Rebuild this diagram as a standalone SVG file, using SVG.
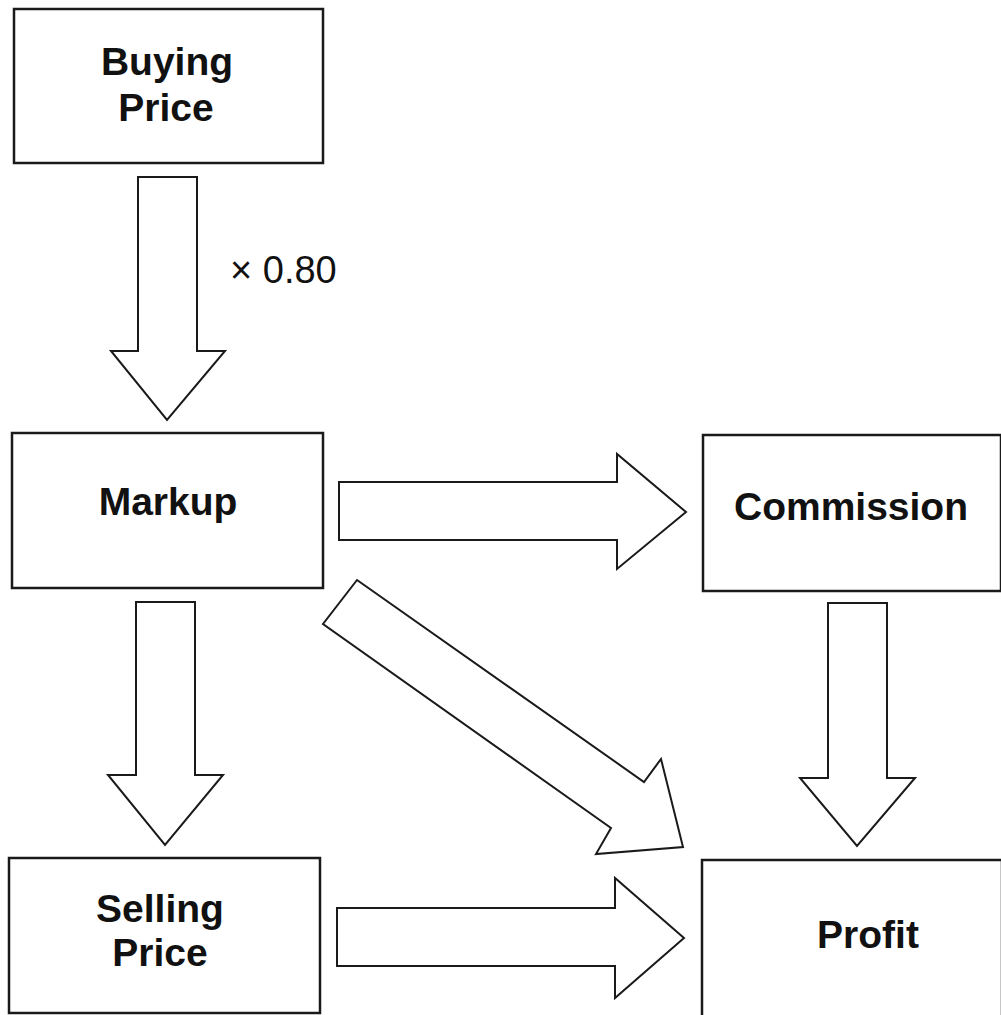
<svg xmlns="http://www.w3.org/2000/svg" width="1001" height="1015" viewBox="0 0 1001 1015">
<style>
.box{fill:#fff;stroke:#1a1a1a;stroke-width:2.5}
.arr{fill:#fff;stroke:#1a1a1a;stroke-width:2;stroke-linejoin:miter}
.lbl{font-family:"Liberation Sans",Arial,sans-serif;font-weight:bold;font-size:39px;fill:#111;text-anchor:middle}
.note{font-family:"Liberation Sans",Arial,sans-serif;font-size:38px;fill:#111}
</style>
<rect width="1001" height="1015" fill="#fff"/>
<g id="connectors">
<polygon class="arr" points="138,177 197,177 197,351 225,351 167,420 111,351 138,351"/>
<polygon class="arr" points="339,482 617,482 617,454 686,512 617,569 617,540 339,540"/>
<polygon class="arr" points="357,580 644,782 661,759 683,847 596,854 611,828 323,624"/>
<polygon class="arr" points="828,603 887,603 887,778 915,778 857,846 800,778 828,778"/>
<polygon class="arr" points="136,602 195,602 195,775 223,775 165,845 108,775 136,775"/>
<polygon class="arr" points="337,908 615,908 615,878 684,938 615,998 615,966 337,966"/>
<text class="note" x="230" y="283">× 0.80</text>
</g>
<g id="buying">
<rect class="box" x="14" y="9" width="309" height="154"/>
<text class="lbl" x="167" y="75">Buying</text>
<text class="lbl" x="166" y="121">Price</text>
</g>
<g id="markup">
<rect class="box" x="12" y="433" width="311" height="155"/>
<text class="lbl" x="168" y="515">Markup</text>
</g>
<g id="commission">
<rect class="box" x="703" y="435" width="298" height="156"/>
<text class="lbl" x="851" y="520">Commission</text>
</g>
<g id="selling">
<rect class="box" x="9" y="858" width="311" height="155"/>
<text class="lbl" x="160" y="922">Selling</text>
<text class="lbl" x="160" y="966">Price</text>
</g>
<g id="profit">
<rect class="box" x="702" y="860" width="300" height="160"/>
<text class="lbl" x="868" y="948">Profit</text>
</g>
</svg>
